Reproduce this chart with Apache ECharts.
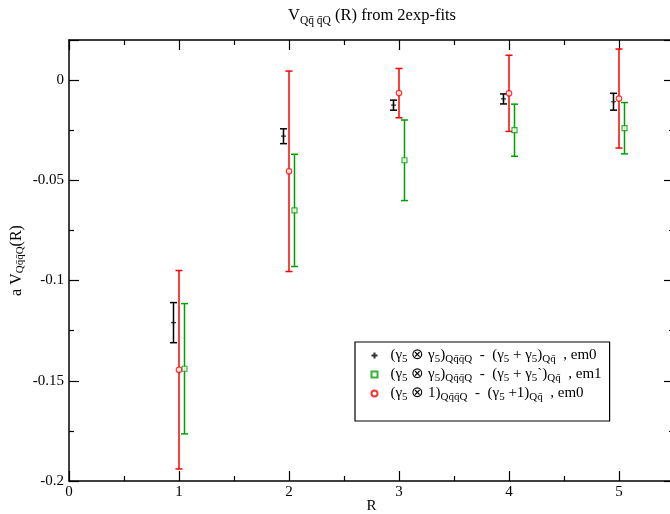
<!DOCTYPE html>
<html>
<head>
<meta charset="utf-8">
<script src="https://cdn.jsdelivr.net/npm/echarts@6/dist/echarts.min.js"></script>
<style>
html,body{margin:0;padding:0;background:#fff;}
#chart{width:670px;height:514px;}
</style>
</head>
<body>
<div id="chart"></div>
<script>
// Separation R of the static sources
const distances = [1, 2, 3, 4, 5];

// (g5 x g5) - (g5 + g5), em0
const potG5G5em0 = [-0.121, -0.028, -0.0125, -0.0094, -0.0108];
const errG5G5em0 = [0.010, 0.0037, 0.0025, 0.0025, 0.0042];

// (g5 x g5) - (g5 + g5`), em1
const potG5G5em1 = [-0.144, -0.065, -0.040, -0.025, -0.024];
const errG5G5em1 = [0.0325, 0.028, 0.0201, 0.013, 0.0128];

// (g5 x 1) - (g5 + 1), em0
const potG51em0 = [-0.1445, -0.0455, -0.0065, -0.0066, -0.0092];
const errG51em0 = [0.0495, 0.050, 0.0123, 0.019, 0.0247];

const yTicks = [-0.2, -0.15, -0.1, -0.05, 0];
const xTicks = [0, 1, 2, 3, 4, 5];

const FONT = 'Liberation Serif';
const sub = 'Qq\u0304q\u0304Q';
const subShort = 'Qq\u0304';

const names = ['g5g5em0', 'g5g5em1', 'g51em0'];
const legendText = {
  g5g5em0: '{t|(γ}{s|5}{t| ⊗ γ}{s|5}{t|)}{s|' + sub + '}{t|  -  (γ}{s|5}{t| + γ}{s|5}{t|)}{s|' + subShort + '}{t|  , em0}',
  g5g5em1: '{t|(γ}{s|5}{t| ⊗ γ}{s|5}{t|)}{s|' + sub + '}{t|  -  (γ}{s|5}{t| + γ}{s|5}{t|`)}{s|' + subShort + '}{t|  , em1}',
  g51em0: '{t|(γ}{s|5}{t| ⊗ 1)}{s|' + sub + '}{t|  -  (γ}{s|5}{t| +1)}{s|' + subShort + '}{t|  , em0}'
};

const shift = 0.05;
const plusPath = 'path://M5,0 L5,10 M0,5 L10,5';

function pts(vals, dx) {
  return distances.map((r, i) => [r + dx, vals[i]]);
}
function bars(vals, errs, dx) {
  return distances.map((r, i) => [r + dx, vals[i] - errs[i], vals[i] + errs[i]]);
}

function errorBarSeries(vals, errs, dx, color) {
  return {
    type: 'custom',
    silent: true,
    z: 2,
    data: bars(vals, errs, dx),
    encode: { x: 0, y: [1, 2] },
    renderItem: function (params, api) {
      const lo = api.coord([api.value(0), api.value(1)]);
      const hi = api.coord([api.value(0), api.value(2)]);
      const cw = 3.5;
      const st = { stroke: color, lineWidth: 1.5, fill: null };
      return {
        type: 'group',
        children: [
          { type: 'line', shape: { x1: lo[0], y1: lo[1], x2: hi[0], y2: hi[1] }, style: st },
          { type: 'line', shape: { x1: lo[0] - cw, y1: lo[1], x2: lo[0] + cw, y2: lo[1] }, style: st },
          { type: 'line', shape: { x1: hi[0] - cw, y1: hi[1], x2: hi[0] + cw, y2: hi[1] }, style: st }
        ]
      };
    }
  };
}

function axisBase() {
  return {
    axisLine: { onZero: false, lineStyle: { color: '#000', width: 1.5 } },
    axisTick: { inside: true, length: 10, lineStyle: { color: '#000', width: 1.2 } },
    minorTick: { show: true, splitNumber: 2, length: 5, lineStyle: { color: '#000', width: 1.2 } },
    splitLine: { show: false }
  };
}

const chart = echarts.init(document.getElementById('chart'), null, { renderer: 'canvas' });

chart.setOption({
  backgroundColor: '#fff',
  animation: false,
  title: {
    text: '{v|V}{s|Qq\u0304 q\u0304Q}{v| (R) from 2exp-fits}',
    left: 283,
    top: 2,
    textStyle: {
      fontWeight: 'normal',
      rich: {
        v: { fontFamily: FONT, fontSize: 16.5, fontWeight: 'normal', color: '#000', lineHeight: 18 },
        s: { fontFamily: FONT, fontSize: 11.5, fontWeight: 'normal', color: '#000', lineHeight: 12, padding: [10, 0, 0, 0] }
      }
    }
  },
  grid: { left: 69, right: -4, top: 40, bottom: 33, outerBoundsMode: 'none', containLabel: false },
  legend: {
    data: names,
    orient: 'vertical',
    left: 355,
    top: 342,
    padding: [4, 8, 18, 14],
    itemGap: 0,
    itemWidth: 6,
    itemHeight: 6,
    borderColor: '#000',
    borderWidth: 1.2,
    borderRadius: 0,
    backgroundColor: '#fff',
    formatter: function (n) { return legendText[n]; },
    textStyle: {
      padding: [0, 0, 0, 8],
      rich: {
        t: { fontFamily: FONT, fontSize: 15, color: '#000', lineHeight: 16 },
        s: { fontFamily: FONT, fontSize: 11, color: '#000', lineHeight: 10, padding: [8, 0, 0, 0] }
      }
    }
  },
  xAxis: [
    Object.assign(axisBase(), {
      type: 'value',
      min: 0,
      max: 5.5,
      interval: 1,
      name: 'R',
      nameLocation: 'middle',
      nameMoveOverlap: false,
      nameGap: 18,
      nameTextStyle: { fontFamily: FONT, fontSize: 15, color: '#000' },
      axisLabel: {
        fontFamily: FONT, fontSize: 15, color: '#000', margin: 4,
        formatter: function (v) { return xTicks.indexOf(v) >= 0 ? String(v) : ''; }
      }
    }),
    Object.assign(axisBase(), {
      type: 'value',
      position: 'top',
      min: 0,
      max: 5.5,
      interval: 1,
      axisLabel: { show: false }
    })
  ],
  yAxis: [
    Object.assign(axisBase(), {
      type: 'value',
      position: 'left',
      min: -0.2,
      max: 0.02,
      interval: 0.05,
      name: '{v|a V}{s|' + sub + '}{v|(R)}',
      nameLocation: 'middle',
      nameMoveOverlap: false,
      nameRotate: 90,
      nameGap: 44,
      nameTextStyle: {
        rich: {
          v: { fontFamily: FONT, fontSize: 16, color: '#000', lineHeight: 17 },
          s: { fontFamily: FONT, fontSize: 11, color: '#000', lineHeight: 11, padding: [8, 0, 0, 0] }
        }
      },
      axisLabel: {
        fontFamily: FONT, fontSize: 15, color: '#000', margin: 5,
        formatter: function (v) {
          const hit = yTicks.find(t => Math.abs(t - v) < 1e-9);
          return hit === undefined ? '' : String(hit);
        }
      }
    }),
    Object.assign(axisBase(), {
      type: 'value',
      position: 'right',
      min: -0.2,
      max: 0.02,
      interval: 0.05,
      axisLabel: { show: false }
    })
  ],
  series: [
    errorBarSeries(potG5G5em0, errG5G5em0, -shift, '#000000'),
    errorBarSeries(potG5G5em1, errG5G5em1, shift, '#00a000'),
    errorBarSeries(potG51em0, errG51em0, 0, '#ff0000'),
    {
      name: 'g5g5em0',
      type: 'scatter',
      z: 3,
      data: pts(potG5G5em0, -shift),
      symbol: plusPath,
      symbolSize: 5,
      itemStyle: { color: 'none', borderColor: '#000', borderWidth: 1.2 }
    },
    {
      name: 'g5g5em1',
      type: 'scatter',
      z: 3,
      data: pts(potG5G5em1, shift),
      symbol: 'rect',
      symbolSize: 5,
      itemStyle: { color: '#fff', borderColor: '#00a000', borderWidth: 1.2 }
    },
    {
      name: 'g51em0',
      type: 'scatter',
      z: 3,
      data: pts(potG51em0, 0),
      symbol: 'circle',
      symbolSize: 5.5,
      itemStyle: { color: '#fff', borderColor: '#ff0000', borderWidth: 1.2 }
    }
  ]
});
</script>
</body>
</html>
